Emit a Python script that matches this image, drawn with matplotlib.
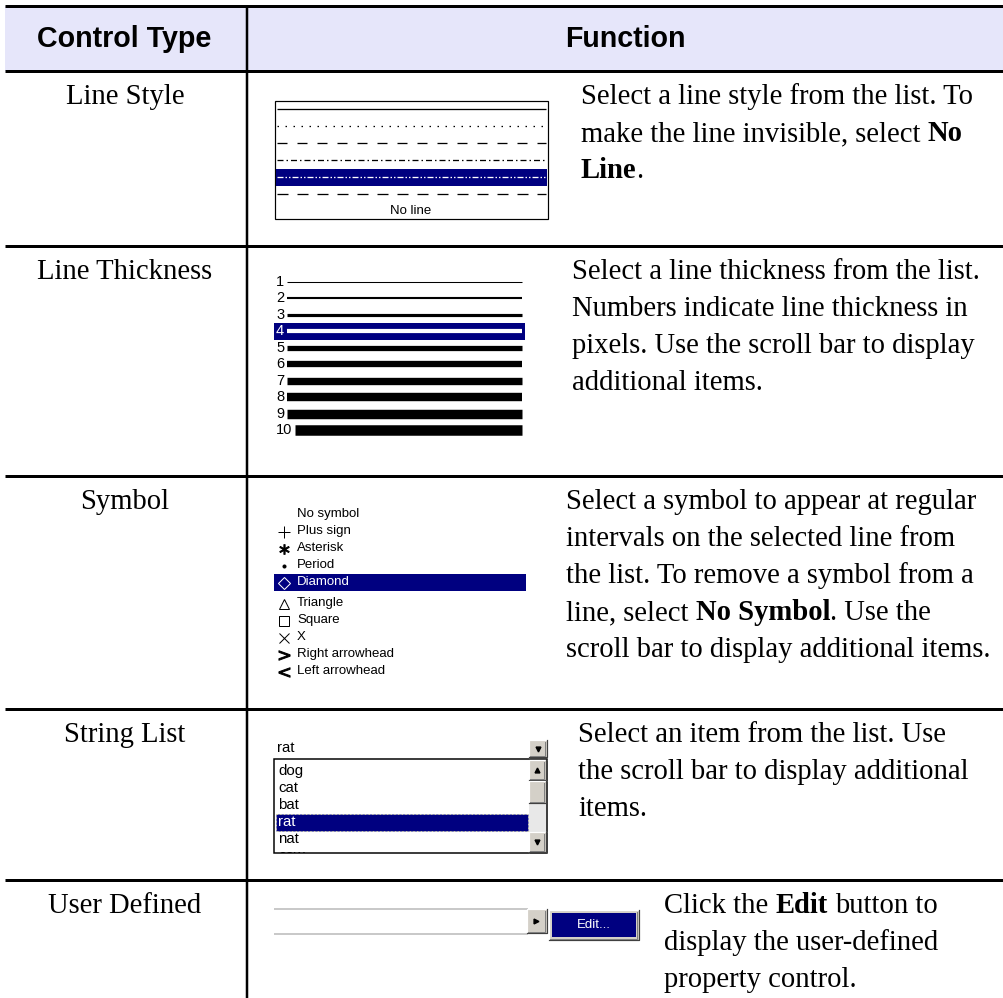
import matplotlib
matplotlib.use("Agg")
import matplotlib.pyplot as plt
from matplotlib.patches import Rectangle

plt.rcParams["lines.scale_dashes"] = False
PX = 0.72  # points per pixel at dpi 100

# ---- table content ----
header_labels = ["Control Type", "Function"]
control_types = ["Line Style", "Line Thickness", "Symbol", "String List", "User Defined"]
function_text = [
    ["Select a line style from the list. To",
     "make the line invisible, select **No**",
     "**Line**."],
    ["Select a line thickness from the list.",
     "Numbers indicate line thickness in",
     "pixels. Use the scroll bar to display",
     "additional items."],
    ["Select a symbol to appear at regular",
     "intervals on the selected line from",
     "the list. To remove a symbol from a",
     "line, select **No Symbol**. Use the",
     "scroll bar to display additional items."],
    ["Select an item from the list. Use",
     "the scroll bar to display additional",
     "items."],
    ["Click the **Edit** button to",
     "display the user-defined",
     "property control."],
]

line_styles = ["solid", "dotted", "dashed", "dashdot", "dashdotdot", "longdash"]
no_line_label = "No line"
selected_style = "dashdotdot"

thickness_values = [1, 2, 3, 4, 5, 6, 7, 8, 9, 10]
selected_thickness = 4

symbol_names = ["No symbol", "Plus sign", "Asterisk", "Period", "Diamond",
                "Triangle", "Square", "X", "Right arrowhead", "Left arrowhead"]
symbol_markers = [None, "+", "$*$", "o", "D", "^", "s", "x", "$>$", "$<$"]
selected_symbol = "Diamond"

string_items = ["dog", "cat", "bat", "rat", "nat", "cow"]
selected_item = "rat"

edit_label = "Edit..."

# ---- layout ----
W, H = 1004, 998
row_tops = [71, 246, 476, 709, 880]
text_x = [581, 572, 566, 578, 664]
BODY = 20.6
SMALL = 9.5
LIST = 10.8
NAVY = "#000080"
FACE = "#D4D0C8"
SERIF = "Liberation Serif"
SANS = "Liberation Sans"

dash_px = {
    "solid": None,
    "dotted": (1.5, 6.5),
    "dashed": (10, 10),
    "dashdot": (6, 3, 1.5, 3),
    "dashdotdot": (6, 2, 1.5, 2, 1.5, 2),
    "longdash": (11, 9),
}
marker_size = {"+": 8, "$*$": 7, "o": 2.2, "D": 6, "^": 7.5, "s": 7, "x": 6.5,
               "$>$": 8, "$<$": 8}

fig = plt.figure(figsize=(W / 100, H / 100), dpi=100)
ax = fig.add_axes([0, 0, 1, 1])
ax.set_xlim(0, W)
ax.set_ylim(H, 0)
ax.axis("off")
renderer = fig.canvas.get_renderer()


def bevel(x, y, w, h, face=FACE):
    ax.add_patch(Rectangle((x, y), w, h, facecolor=face, edgecolor="none"))
    ax.plot([x, x, x + w], [y + h, y, y], color="white", lw=1.2 * PX)
    ax.plot([x, x + w, x + w], [y + h, y + h, y], color="#404040", lw=1.2 * PX)
    ax.plot([x + 1.5, x + w - 1.5, x + w - 1.5], [y + h - 1.5, y + h - 1.5, y + 1.5],
            color="#808080", lw=1 * PX)


def rich_line(x, y, line):
    space_w = 0.25 * BODY / PX
    for k, part in enumerate(line.split("**")):
        if not part:
            continue
        lead = len(part) - len(part.lstrip(" "))
        trail = len(part) - len(part.rstrip(" "))
        x += lead * space_w
        t = ax.text(x, y, part.strip(" "), fontsize=BODY, family=SERIF,
                    fontweight="bold" if k % 2 else "normal", va="baseline", ha="left")
        x += t.get_window_extent(renderer).width + trail * space_w


# ---- table frame ----
ax.add_patch(Rectangle((5, 6), W - 5, 65, facecolor="#E6E6FA", edgecolor="none"))
ax.hlines([6] + row_tops, 5, W, color="black", lw=3 * PX)
ax.vlines(247, 6, H, color="black", lw=2.5 * PX)
ax.text(124, 39, header_labels[0], fontsize=BODY, family=SANS, fontweight="bold",
        ha="center", va="center")
ax.text(625, 39, header_labels[1], fontsize=BODY, family=SANS, fontweight="bold",
        ha="center", va="center")

for i, name in enumerate(control_types):
    base = row_tops[i] + 33
    ax.text(125, base, name, fontsize=BODY, family=SERIF, ha="center", va="baseline")
    for j, line in enumerate(function_text[i]):
        rich_line(text_x[i], base + 37 * j, line)

# ---- line style list ----
ax.add_patch(Rectangle((275, 101), 273, 118, facecolor="white", edgecolor="black", lw=1.2 * PX))
for i, style in enumerate(line_styles):
    y = 109 + 17 * i
    color = "black"
    if style == selected_style:
        ax.add_patch(Rectangle((276, y - 8.5), 271, 17, facecolor=NAVY, edgecolor="none"))
        color = "white"
    ln, = ax.plot([277, 546], [y, y], color=color, lw=1.3 * PX, solid_capstyle="butt",
                  dash_capstyle="butt")
    if dash_px[style] is not None:
        ln.set_dashes([d * PX for d in dash_px[style]])
ax.text(411, 109 + 17 * len(line_styles), no_line_label, fontsize=SMALL, family=SANS,
        ha="center", va="center")

# ---- line thickness list ----
for i, val in enumerate(thickness_values):
    y = 282 + 16.45 * i
    color = "black"
    if val == selected_thickness:
        ax.add_patch(Rectangle((274, y - 8.5), 251, 17, facecolor=NAVY, edgecolor="none"))
        color = "white"
    t = ax.text(276, y, str(val), fontsize=10.5, family=SANS, color=color, ha="left", va="center")
    x0 = t.get_window_extent(renderer).x1 + 3
    lw = val if val != selected_thickness else 4
    ax.plot([x0, 522], [y, y], color=color, lw=lw * PX * 1.05, solid_capstyle="butt")

# ---- symbol list ----
for i, (name, mk) in enumerate(zip(symbol_names, symbol_markers)):
    y = 514 + 17 * i + (4 if i >= 5 else 0)
    color = "black"
    if name == selected_symbol:
        ax.add_patch(Rectangle((274, y - 8.5), 252, 17, facecolor=NAVY, edgecolor="none"))
        color = "white"
    if mk is not None:
        open_mk = mk in ("D", "^", "s")
        ax.plot(284, y + 0.5, marker=mk, ms=marker_size[mk], color=color,
                mfc="none" if open_mk else color, mew=1 * PX, linestyle="none")
    ax.text(297, y, name, fontsize=SMALL, family=SANS, color=color, ha="left", va="center")

# ---- string list ----
ax.text(277, 748, selected_item, fontsize=LIST, family=SANS, ha="left", va="center")
bevel(529, 740, 18, 17)
ax.plot(538, 749, marker="v", ms=3.5, color="black")
box = Rectangle((274, 759), 273, 94, facecolor="white", edgecolor="black", lw=1.5 * PX)
ax.add_patch(box)
for i, item in enumerate(string_items):
    y = 771 + 17 * i
    color = "black"
    if item == selected_item:
        ax.add_patch(Rectangle((276, y - 8.5), 252, 17, facecolor=NAVY,
                               edgecolor="#E0E0A0", lw=0.8 * PX, linestyle=":"))
        color = "white"
    t = ax.text(278, y, item, fontsize=LIST, family=SANS, color=color, ha="left",
                va="center", clip_on=True)
    t.set_clip_path(box)
ax.add_patch(Rectangle((529, 760), 17, 92, facecolor="#E8E8E8", edgecolor="none"))
bevel(529, 760, 17, 20)
ax.plot(537.5, 770, marker="^", ms=3.5, color="black")
bevel(529, 781, 17, 22)
bevel(529, 832, 17, 20)
ax.plot(537.5, 842, marker="v", ms=3.5, color="black")

# ---- user defined ----
ax.hlines([909, 934], 274, 528, color="#B8B8B8", lw=1.5 * PX)
bevel(527, 909, 20, 24)
ax.plot(536, 921, marker=">", ms=3.5, color="black")
bevel(549, 910, 90, 30)
ax.add_patch(Rectangle((552, 913), 84, 24, facecolor=NAVY, edgecolor="none"))
ax.text(594, 925, edit_label, fontsize=SMALL, family=SANS, color="white",
        ha="center", va="center")

fig.savefig("out.png", dpi=100)
